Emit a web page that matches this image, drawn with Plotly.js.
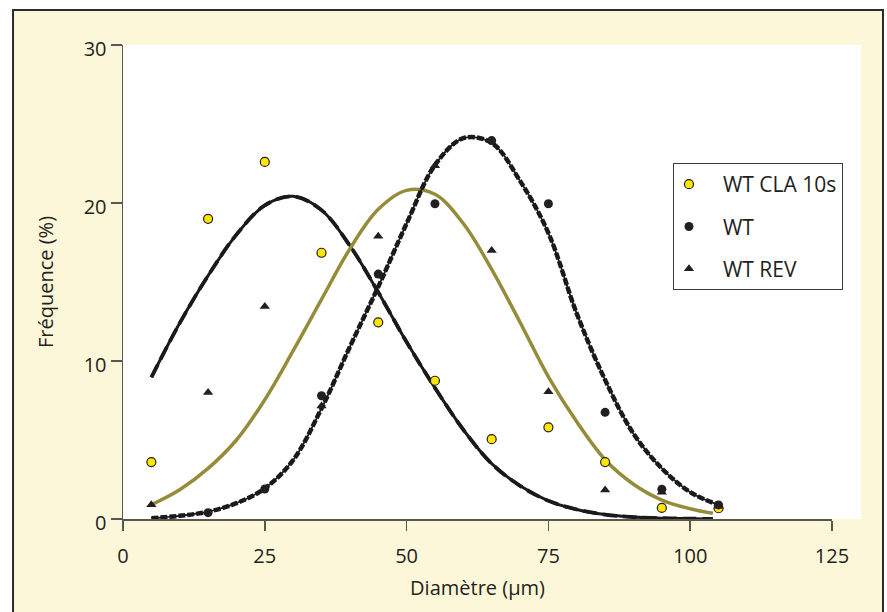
<!DOCTYPE html>
<html>
<head>
<meta charset="utf-8">
<script src="https://cdn.plot.ly/plotly-3.0.1.min.js"></script>
<style>html,body{margin:0;padding:0;background:#fff;}#chart{width:887px;height:612px;}</style>
</head>
<body>
<div id="chart"></div>
<script>
// Measured points
const diam = [5, 15, 25, 35, 45, 55, 65, 75, 85, 95, 105];
const wtCla = [3.6, 19.0, 22.6, 16.85, 12.45, 8.75, 5.05, 5.8, 3.6, 0.7, 0.68];
const wt = [null, 0.4, 1.9, 7.8, 15.5, 19.95, 23.95, 19.95, 6.75, 1.88, 0.89];
const wtRev = [0.9, 8.0, 13.45, 7.15, 17.9, 22.35, 17.0, 8.05, 1.84, 1.7, 0.8];

// Fitted curves
const fitAx = [5, 10, 15, 20, 25, 30, 35, 40, 45, 50, 55, 60, 65, 70, 75, 80, 85, 90, 95, 100, 104];
const fitA = [8.97, 12.4, 15.4, 18.0, 19.85, 20.42, 19.55, 17.3, 14.35, 11.2, 8.3, 5.65, 3.5, 2.1, 1.15, 0.6, 0.28, 0.12, 0.05, 0.02, 0.0];
const fitBx = [5, 10, 15, 20, 25, 30, 35, 40, 45, 50, 55, 60, 65, 70, 75, 80, 85, 90, 95, 100, 104];
const fitB = [0.9, 1.85, 3.2, 5.0, 7.55, 10.65, 13.9, 17.1, 19.6, 20.8, 20.55, 18.7, 15.8, 12.45, 9.0, 6.15, 3.75, 2.2, 1.2, 0.65, 0.36];
const fitCx = [5, 10, 15, 20, 25, 30, 35, 40, 45, 50, 55, 60, 65, 70, 75, 80, 85, 90, 95, 100, 105];
const fitC = [0.05, 0.2, 0.46, 1.0, 1.94, 3.73, 7.0, 10.9, 14.7, 18.7, 22.4, 24.1, 23.8, 21.4, 18.1, 13.0, 8.8, 5.4, 3.2, 1.7, 0.89];

const xTicks = [0, 25, 50, 75, 100, 125];
const yTicks = [0, 10, 20, 30];
const seriesNames = ['WT CLA 10s', 'WT', 'WT REV'];
const xTitle = 'Diamètre (µm)';
const yTitle = 'Fréquence (%)';

const txt = '#231f20';
const font = {family: 'Open Sans, sans-serif', size: 20, color: txt};
const pad = '\u2002\u2009';

function curve(x, y, color, width, dash) {
  return {x: x, y: y, type: 'scatter', mode: 'lines', showlegend: false, hoverinfo: 'skip',
    line: {color: color, width: width, dash: dash || 'solid', shape: 'spline', smoothing: 1}};
}

const traces = [
  curve(fitAx, fitA, '#1a1a1a', 3, 'solid'),
  curve(fitAx, fitA, '#1a1a1a', 3.8, '14px,6px'),
  curve(fitBx, fitB, '#958c3a', 3.5, 'solid'),
  curve(fitCx, fitC, '#1a1a1a', 1.8, 'solid'),
  curve(fitCx, fitC, '#1a1a1a', 4.5, '7px,2px'),
  {x: diam, y: wtCla, type: 'scatter', mode: 'markers', name: pad + seriesNames[0], legendgroup: 'a',
    marker: {symbol: 'circle', size: 9, color: '#ffe600', line: {color: '#231f20', width: 1.2}}},
  {x: diam, y: wt, type: 'scatter', mode: 'markers', name: pad + seriesNames[1], legendgroup: 'b',
    marker: {symbol: 'circle', size: 9, color: '#231f20', line: {width: 0}}},
  {x: diam, y: wtRev, type: 'scatter', mode: 'markers', name: pad + seriesNames[2], legendgroup: 'c',
    marker: {symbol: 'triangle-up', size: 9, color: '#231f20', line: {width: 0}}}
];

const layout = {
  width: 887, height: 612,
  margin: {l: 123, r: 55, t: 45, b: 93},
  paper_bgcolor: '#ffffff',
  plot_bgcolor: '#ffffff',
  font: font,
  showlegend: true,
  legend: {x: 0.7757, y: 0.751, xanchor: 'left', yanchor: 'top', bgcolor: '#ffffff',
    bordercolor: '#3a3a3a', borderwidth: 1, font: {family: 'Open Sans, sans-serif', size: 21, color: txt},
    traceorder: 'grouped', tracegroupgap: 12, itemwidth: 30, indentation: -5},
  xaxis: {range: [0, 125], tickvals: xTicks, ticktext: xTicks.map(String), showgrid: false, zeroline: false,
    showline: true, linecolor: '#5a5650', linewidth: 1.5, ticks: 'outside', ticklen: 10, tickwidth: 1.5,
    tickcolor: '#5a5650', tickfont: font, ticklabelstandoff: 8,
    title: {text: xTitle, font: font, standoff: 13}, fixedrange: true},
  yaxis: {range: [0, 30], tickvals: yTicks, ticktext: yTicks.map(String), showgrid: false, zeroline: false,
    showline: true, linecolor: '#5a5650', linewidth: 1.5, ticks: 'outside', ticklen: 11, tickwidth: 1.5,
    tickcolor: '#5a5650', tickfont: font, ticklabelshift: 4,
    title: {text: yTitle, font: font, standoff: 24}, fixedrange: true},
  shapes: [
    {type: 'rect', xref: 'paper', yref: 'paper', x0: -0.1551, x1: 1.0719, y0: -0.25, y1: 1.0738,
      fillcolor: '#fdf7d9', line: {color: '#2a2a2a', width: 2}, layer: 'below'},
    {type: 'rect', xref: 'paper', yref: 'paper', x0: 0, x1: 1.0409, y0: 0, y1: 1,
      fillcolor: '#ffffff', line: {width: 0}, layer: 'below'}
  ]
};

Plotly.newPlot('chart', traces, layout, {displayModeBar: false, staticPlot: true});
</script>
</body>
</html>
